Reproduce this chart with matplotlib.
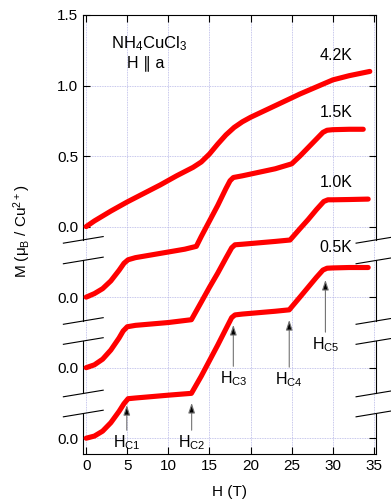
import numpy as np
import matplotlib
matplotlib.use("Agg")
import matplotlib.pyplot as plt
import matplotlib.transforms as mtransforms

plt.rcParams['font.family'] = ['Liberation Sans', 'DejaVu Sans']
plt.rcParams['mathtext.default'] = 'regular'

# magnetization curves, each measured from its own zero
H_42 = [0, 1, 2, 3, 5, 7, 9, 11, 12, 13, 14, 15, 16, 17, 18, 19, 20, 22, 24, 26, 28, 30, 32, 34.5]
M_42 = [0, 0.04, 0.075, 0.11, 0.175, 0.235, 0.295, 0.36, 0.39, 0.42, 0.458, 0.515, 0.585, 0.65,
        0.703, 0.743, 0.775, 0.83, 0.885, 0.94, 0.99, 1.04, 1.07, 1.10]

H_15 = [0, 1, 2, 3, 4, 4.6, 5.1, 6, 8, 10, 12, 13.4, 14, 15, 16, 17, 17.5, 17.9, 19, 21, 23, 25,
        26, 27, 28, 28.8, 29.3, 30, 32, 33.7]
M_15 = [0, 0.025, 0.06, 0.115, 0.19, 0.24, 0.265, 0.28, 0.3, 0.32, 0.34, 0.36, 0.43, 0.54,
        0.65, 0.77, 0.825, 0.848, 0.86, 0.885, 0.91, 0.945, 1.0, 1.06, 1.12, 1.168, 1.183,
        1.187, 1.19, 1.19]

H_10 = [0, 1, 2, 3, 4, 4.5, 5.0, 6, 8, 10, 12.8, 14, 15, 16, 17, 17.7, 18.1, 19, 21, 23, 24.8,
        26, 27, 28, 28.9, 29.4, 30, 32, 34.3]
M_10 = [0, 0.02, 0.06, 0.125, 0.21, 0.26, 0.29, 0.3, 0.31, 0.32, 0.34, 0.465, 0.57, 0.67,
        0.777, 0.85, 0.871, 0.875, 0.885, 0.895, 0.905, 0.985, 1.05, 1.12, 1.178, 1.19, 1.19,
        1.192, 1.195]

H_05 = [0, 1, 2, 3, 4, 4.6, 5.1, 6, 8, 10, 12.8, 14, 15, 16, 17, 17.7, 18.1, 19, 21, 23, 24.7,
        26, 27, 28, 28.8, 29.3, 30, 32, 34.3]
M_05 = [0, 0.015, 0.05, 0.11, 0.19, 0.245, 0.28, 0.285, 0.295, 0.305, 0.318, 0.44, 0.55,
        0.66, 0.775, 0.855, 0.874, 0.88, 0.89, 0.9, 0.91, 1.0, 1.07, 1.14, 1.192, 1.205, 1.207,
        1.21, 1.21]

curves = [(H_42, M_42), (H_15, M_15), (H_10, M_10), (H_05, M_05)]
temps = ['4.2K', '1.5K', '1.0K', '0.5K']
offsets = [0.0, -0.5, -1.0, -1.5]
label_y = [1.21, 0.806, 0.31, -0.15]

y_ticks = [1.5, 1.0, 0.5, 0.0, -0.5, -1.0, -1.5]
y_ticklabels = ['1.5', '1.0', '0.5', '0.0', '0.0', '0.0', '0.0']
x_ticks = [0, 5, 10, 15, 20, 25, 30, 35]

# critical fields on the 0.5K curve: (name, H, arrow tip, text top)
crit_names = ['C1', 'C2', 'C3', 'C4', 'C5']
crit_H = [4.94, 12.83, 17.9, 24.7, 29.1]
crit_tip = [-1.265, -1.25, -0.697, -0.662, -0.378]
crit_text = [-1.463, -1.463, -1.01, -1.016, -0.768]

# axis break positions (pairs)
breaks = [-0.094, -0.24, -0.669, -0.811, -1.183, -1.325]

fig = plt.figure(figsize=(3.91, 5.0), dpi=100)
ax = fig.add_axes([0.213, 0.092, 0.7486, 0.878])

for (h, m), off in zip(curves, offsets):
    ax.plot(h, np.array(m) + off, color='#ff0000', lw=3.7,
            solid_capstyle='round', solid_joinstyle='round', zorder=3)

for t, y in zip(temps, label_y):
    ax.text(30.4, y, t, ha='center', va='center', fontsize=11.5)

ax.text(7.65, 1.296, 'NH$_4$CuCl$_3$', ha='center', va='center', fontsize=12)
ax.text(7.3, 1.16, 'H \u2225 a', ha='center', va='center', fontsize=11.5)

for name, h, tip, top in zip(crit_names, crit_H, crit_tip, crit_text):
    ax.annotate('H$_{%s}$' % name, xy=(h, tip), xytext=(h, top),
                ha='center', va='top', fontsize=11.5,
                arrowprops=dict(arrowstyle='-|>,head_length=0.6,head_width=0.2',
                                ec='0.45', fc='black', lw=0.8,
                                mutation_scale=10, shrinkA=0, shrinkB=0))

ax.set_xlim(-0.35, 35.25)
ax.set_ylim(-1.612, 1.5)
ax.set_xticks(x_ticks)
ax.set_yticks(y_ticks)
ax.set_yticklabels(y_ticklabels)
ax.tick_params(direction='in', length=5, width=0.8, top=True, right=True,
               labelsize=11, pad=3.5)
ax.grid(True, color='#b4b4e6', ls=(0, (1, 1)), lw=0.6)
ax.set_axisbelow(True)

ax.set_xlabel('H (T)', fontsize=11, labelpad=9)
fig.text(22 / 391, 1 - 231 / 500, 'M (\u03bc$_B$ / Cu$^{2+}$)', rotation=90,
         ha='center', va='center', fontsize=11)

# broken side spines
ax.spines['left'].set_visible(False)
ax.spines['right'].set_visible(False)
trans = mtransforms.blended_transform_factory(ax.transAxes, ax.transData)
edges = [1.5] + breaks + [-1.612]
for x0 in (0, 1):
    for i in range(0, len(edges), 2):
        ax.plot([x0, x0], [edges[i], edges[i + 1]], color='black', lw=0.8,
                transform=trans, clip_on=False)
    for b in breaks:
        ax.plot([x0 - 0.068, x0 + 0.068], [b - 0.0234, b + 0.0234], color='black',
                lw=0.8, transform=trans, clip_on=False)

fig.savefig('out.png', dpi=100)
